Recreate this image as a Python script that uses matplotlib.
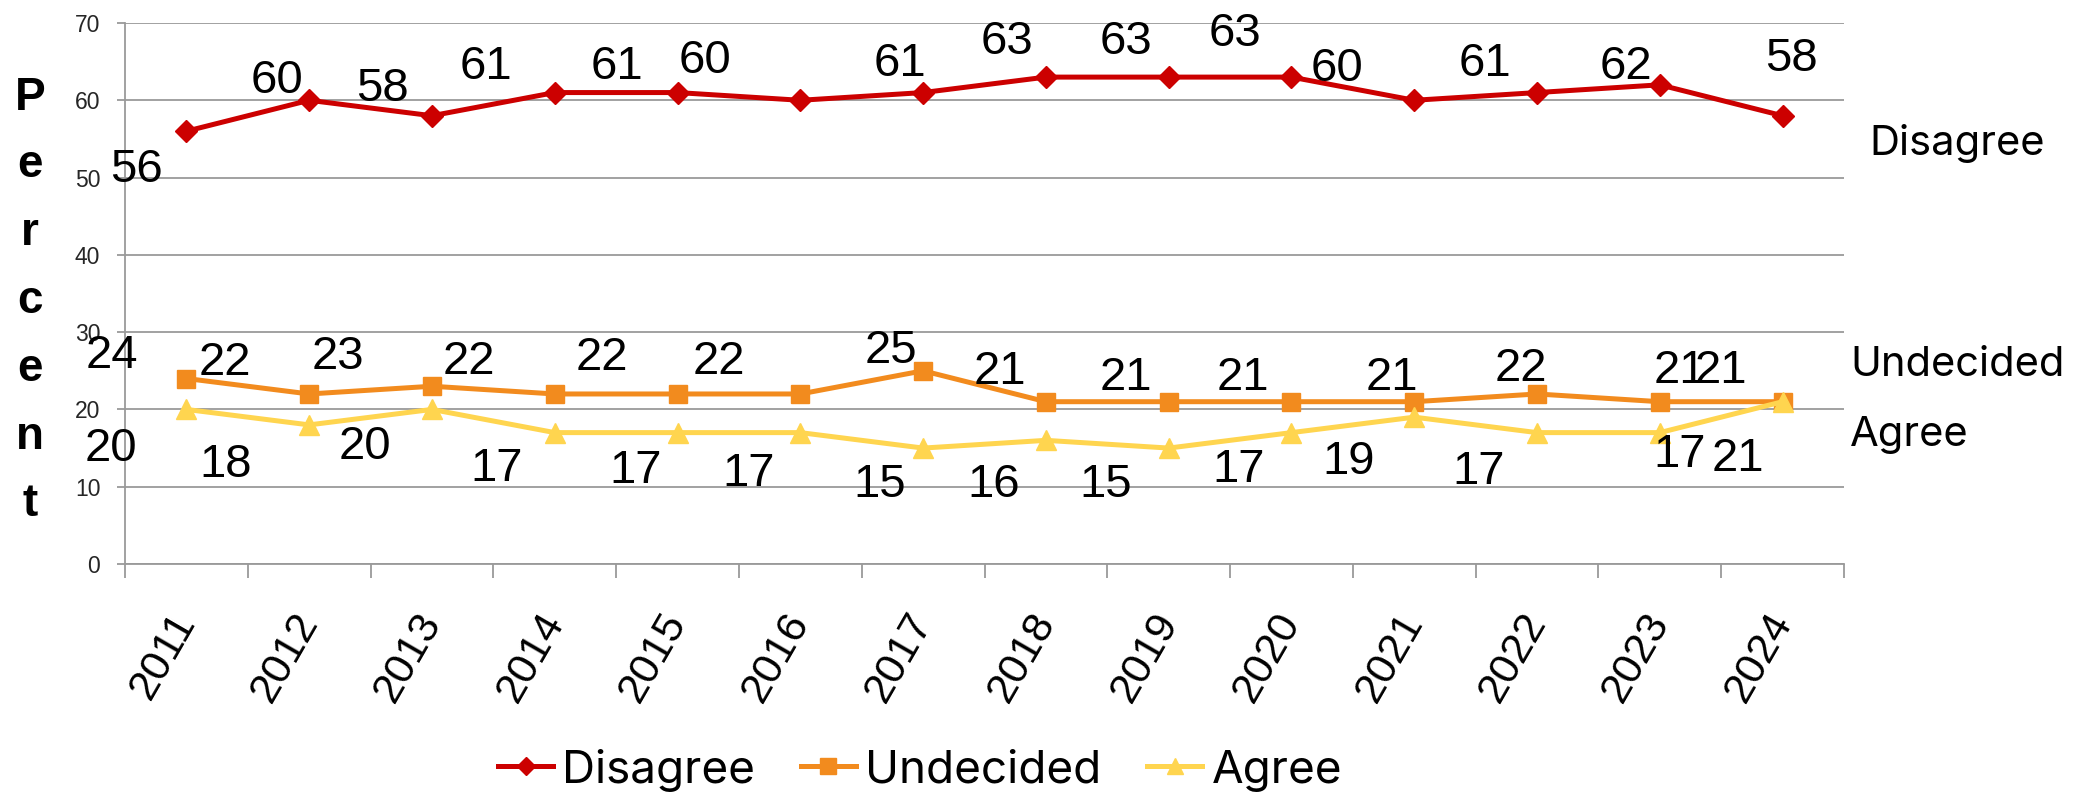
import matplotlib
matplotlib.use('Agg')
import matplotlib.pyplot as plt
from matplotlib.lines import Line2D
import numpy as np

years = [str(y) for y in range(2011, 2025)]
disagree = [56, 60, 58, 61, 61, 60, 61, 63, 63, 63, 60, 61, 62, 58]
undecided = [24, 22, 23, 22, 22, 22, 25, 21, 21, 21, 21, 22, 21, 21]
agree = [20, 18, 20, 17, 17, 17, 15, 16, 15, 17, 19, 17, 17, 21]
y_ticks = [0, 10, 20, 30, 40, 50, 60, 70]
series_names = ['Disagree', 'Undecided', 'Agree']

# data-label offsets (pixels: right, up) relative to each point
dis_off = [(-50, -34), (-32, 24), (-50, 31), (-69, 30), (-61, 30), (-95, 44), (-23, 33),
           (-39, 40), (-43, 40), (-56, 48), (-77, 36), (-52, 33), (-34, 22), (9, 61)]
und_off = [(-75, 27), (-84, 35), (-94, 34), (-86, 36), (-76, 40), (-81, 36), (-32, 24),
           (-46, 34), (-43, 28), (-49, 28), (-22, 28), (-16, 29), (20, 35), (-62, 35)]
agr_off = [(-75, -35), (-84, -36), (-67, -33), (-58, -32), (-42, -34), (-52, -37), (-43, -32),
           (-52, -40), (-63, -32), (-53, -33), (-66, -40), (-58, -35), (20, -18), (-45, -53)]

W, H, DPI = 2078, 795, 100
PX = 72.0 / DPI
RED, ORANGE, YELLOW = '#CC0000', '#F28B1E', '#FFD54F'
GRID = '#9A9A9A'
NUMFONT = 'Liberation Sans'
TXTFONT = 'Inter'

fig = plt.figure(figsize=(W / DPI, H / DPI), dpi=DPI)
ax = fig.add_axes([125 / W, (H - 564) / H, 1719 / W, 541 / H])

x = np.arange(len(years))
styles = [
    dict(color=RED, marker='D', ms=11),
    dict(color=ORANGE, marker='s', ms=13.5),
    dict(color=YELLOW, marker='^', ms=14),
]
for vals, st, name in zip([disagree, undecided, agree], styles, series_names):
    ax.plot(x, vals, lw=3.6, color=st['color'], marker=st['marker'], ms=st['ms'],
            mfc=st['color'], mec=st['color'], mew=1, label=name, zorder=3)

cap_half = 16.5
for vals, offs in [(disagree, dis_off), (undecided, und_off), (agree, agr_off)]:
    for xi, v, (dx, dy) in zip(x, vals, offs):
        ax.annotate(str(v), (xi, v), xytext=(dx * PX, (dy - cap_half) * PX),
                    textcoords='offset points', ha='center', va='baseline',
                    fontsize=34, family=NUMFONT, color='black', zorder=5,
                    annotation_clip=False)

ax.set_xlim(-0.5, len(years) - 0.5)
ax.set_ylim(0, 70)
ax.set_yticks(y_ticks)
ax.set_yticklabels([str(t) for t in y_ticks], fontsize=16.5, family=NUMFONT, color='#262626')
ax.tick_params(axis='y', length=5.8, width=1.3, color=GRID, pad=12)
ax.yaxis.grid(True, color=GRID, lw=1.3)
ax.set_axisbelow(True)

ax.set_xticks(x)
ax.set_xticklabels(years, fontsize=31, family=NUMFONT, rotation=60,
                   ha='right', va='center', rotation_mode='anchor')
ax.tick_params(axis='x', which='major', length=0, pad=37)
ax.set_xticks(np.arange(-0.5, len(years), 1.0), minor=True)
ax.tick_params(axis='x', which='minor', length=10, width=1.3, color=GRID)

for s in ['top', 'right']:
    ax.spines[s].set_visible(False)
for s in ['left', 'bottom']:
    ax.spines[s].set_color(GRID)
    ax.spines[s].set_linewidth(1.3)

fig.text(30 / W, 1 - 301 / H, '\n'.join('Percent'), ha='center', va='center',
         fontsize=33, fontweight='bold', family=NUMFONT, linespacing=1.70)

fig.text(1869 / W, 1 - 155 / H, 'Disagree', ha='left', va='baseline', fontsize=30, family=TXTFONT)
fig.text(1850 / W, 1 - 376 / H, 'Undecided', ha='left', va='baseline', fontsize=30, family=TXTFONT)
fig.text(1850 / W, 1 - 446 / H, 'Agree', ha='left', va='baseline', fontsize=30, family=TXTFONT)

handles = [Line2D([0], [0], color=st['color'], lw=3.6, marker=st['marker'], ms=st['ms'] * 0.85,
                  mfc=st['color'], mec=st['color']) for st in styles]
fig.legend(handles, series_names, loc='center', bbox_to_anchor=(920 / W, 25 / H), ncol=3,
           frameon=False, prop={'family': TXTFONT, 'size': 33}, handlelength=1.2,
           handletextpad=0.2, columnspacing=1.0, borderpad=0, borderaxespad=0)

fig.savefig('out.png', dpi=DPI)
